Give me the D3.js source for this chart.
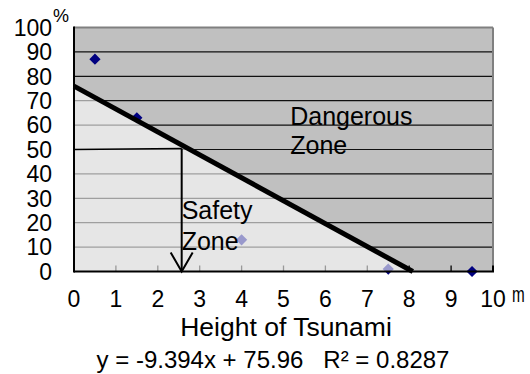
<!DOCTYPE html>
<html>
<head>
<meta charset="utf-8">
<script src="https://cdn.jsdelivr.net/npm/d3@7"></script>
<style>
  body { margin: 0; background: #fff; }
  text { font-family: "Liberation Sans", Arial, sans-serif; fill: #000; white-space: pre; }
</style>
</head>
<body>
<div id="chart"></div>
<script>
// DATA
var heights = [0.5, 1.5, 4, 7.5, 9.5];        // tsunami height (m)
var rates = [87, 63, 13, 1, 0];               // percent
var xTicks = [0, 1, 2, 3, 4, 5, 6, 7, 8, 9, 10];
var yTicks = [0, 10, 20, 30, 40, 50, 60, 70, 80, 90, 100];
var slope = -9.394;
var intercept = 75.96;
var guideLevel = 50;     // horizontal guide at 50 %
var guideHeight = 2.57;  // arrow down to the x axis
var equationText = "y = -9.394x + 75.96   R\u00b2 = 0.8287";

var w = 530;
var h = 374;
var plotLeft = 74, plotRight = 493, plotTop = 27.5, plotBottom = 271.5;

var svg = d3.select("#chart").append("svg")
  .attr("width", w).attr("height", h);

// SCALES
var xScale = d3.scaleLinear().domain([0, 10]).range([plotLeft, plotRight]);
var yScale = d3.scaleLinear().domain([0, 100]).range([plotBottom, plotTop]);

// plot background
svg.append("rect")
  .attr("x", plotLeft).attr("y", plotTop)
  .attr("width", plotRight - plotLeft).attr("height", plotBottom - plotTop)
  .attr("fill", "#c0c0c0");

// gridlines
svg.append("g").selectAll("line")
  .data(yTicks.filter(function (d) { return d > 0 && d < 100; }))
  .enter().append("line")
  .attr("x1", plotLeft).attr("x2", plotRight)
  .attr("y1", function (d) { return yScale(d); })
  .attr("y2", function (d) { return yScale(d); })
  .attr("stroke", "#111")
  .attr("stroke-width", 1.2);

// x tick marks (inside)
svg.append("g").selectAll("line")
  .data(xTicks.slice(1, -1))
  .enter().append("line")
  .attr("x1", function (d) { return xScale(d); })
  .attr("x2", function (d) { return xScale(d); })
  .attr("y1", plotBottom).attr("y2", plotBottom - 6)
  .attr("stroke", "#000")
  .attr("stroke-width", 1.3);

// points
svg.append("g").selectAll("path")
  .data(heights)
  .enter().append("path")
  .attr("d", d3.symbol().type(d3.symbolDiamond2).size(80))
  .attr("transform", function (d, i) {
    return "translate(" + xScale(d) + "," + yScale(rates[i]) + ")";
  })
  .attr("fill", "#000080");

// safety zone overlay under the trend line
var xZero = -intercept / slope;
var tri = [[0, 0], [0, intercept], [xZero, 0]];
svg.append("path")
  .attr("d", d3.line()
    .x(function (d) { return xScale(d[0]); })
    .y(function (d) { return yScale(d[1]); })(tri) + "Z")
  .attr("fill", "#fff")
  .attr("fill-opacity", 0.6);

// trend line
svg.append("line")
  .attr("x1", xScale(0)).attr("y1", yScale(intercept))
  .attr("x2", xScale(xZero)).attr("y2", yScale(0))
  .attr("stroke", "#000")
  .attr("stroke-width", 5);

// guide at 50 % and arrow down
svg.append("line")
  .attr("x1", xScale(0)).attr("y1", yScale(guideLevel))
  .attr("x2", xScale(guideHeight)).attr("y2", yScale(guideLevel) - 1)
  .attr("stroke", "#000").attr("stroke-width", 1.5);
svg.append("line")
  .attr("x1", xScale(guideHeight)).attr("y1", yScale(guideLevel) - 1)
  .attr("x2", xScale(guideHeight)).attr("y2", yScale(0))
  .attr("stroke", "#000").attr("stroke-width", 2);
svg.append("path")
  .attr("d", "M" + (xScale(guideHeight) - 11) + "," + (yScale(0) - 19) +
    "L" + xScale(guideHeight) + "," + yScale(0) +
    "L" + (xScale(guideHeight) + 11) + "," + (yScale(0) - 19))
  .attr("fill", "none").attr("stroke", "#000").attr("stroke-width", 2);

// plot frame
svg.append("line")
  .attr("x1", plotLeft).attr("x2", plotRight).attr("y1", plotTop).attr("y2", plotTop)
  .attr("stroke", "#808080").attr("stroke-width", 2);
svg.append("line")
  .attr("x1", plotRight).attr("x2", plotRight).attr("y1", plotTop).attr("y2", plotBottom)
  .attr("stroke", "#808080").attr("stroke-width", 2);
svg.append("line")
  .attr("x1", plotLeft).attr("x2", plotLeft).attr("y1", plotTop - 1).attr("y2", plotBottom + 1)
  .attr("stroke", "#000").attr("stroke-width", 2);
svg.append("line")
  .attr("x1", plotLeft).attr("x2", plotRight + 1).attr("y1", plotBottom).attr("y2", plotBottom)
  .attr("stroke", "#000").attr("stroke-width", 2);
svg.append("line")
  .attr("x1", plotRight).attr("x2", plotRight).attr("y1", plotBottom - 6).attr("y2", plotBottom)
  .attr("stroke", "#000").attr("stroke-width", 2);

// zone labels
function label(lines, x, y, gap) {
  var t = svg.append("text")
    .attr("x", xScale(x)).attr("y", yScale(y))
    .attr("font-size", "25px");
  lines.forEach(function (s, i) {
    t.append("tspan").attr("x", xScale(x)).attr("dy", i ? gap : 0).text(s);
  });
}
label(["Dangerous", "Zone"], 5.16, 60, 29);
label(["Safety", "Zone"], 2.57, 21.5, 31);

// y tick labels
svg.append("g").selectAll("text")
  .data(yTicks)
  .enter().append("text")
  .attr("x", 52)
  .attr("y", function (d) { return yScale(d); })
  .attr("dy", "0.36em")
  .attr("text-anchor", "end")
  .attr("font-size", "23px")
  .text(function (d) { return d; });
svg.append("text")
  .attr("x", 53).attr("y", 22)
  .attr("font-size", "18px")
  .text("%");

// x tick labels
svg.append("g").selectAll("text")
  .data(xTicks)
  .enter().append("text")
  .attr("x", function (d) { return xScale(d); })
  .attr("y", 307)
  .attr("text-anchor", "middle")
  .attr("font-size", "23px")
  .text(function (d) { return d; });
svg.append("text")
  .attr("transform", "translate(512,302) scale(0.9,1.35)")
  .attr("font-family", "'Liberation Mono', monospace")
  .attr("font-size", "17px")
  .text("m");

// axis title and equation
svg.append("text")
  .attr("x", 286).attr("y", 336)
  .attr("text-anchor", "middle")
  .attr("font-size", "26.5px")
  .text("Height of Tsunami");
svg.append("text")
  .attr("x", 273).attr("y", 368)
  .attr("text-anchor", "middle")
  .attr("font-size", "24px")
  .text(equationText);
</script>
</body>
</html>
